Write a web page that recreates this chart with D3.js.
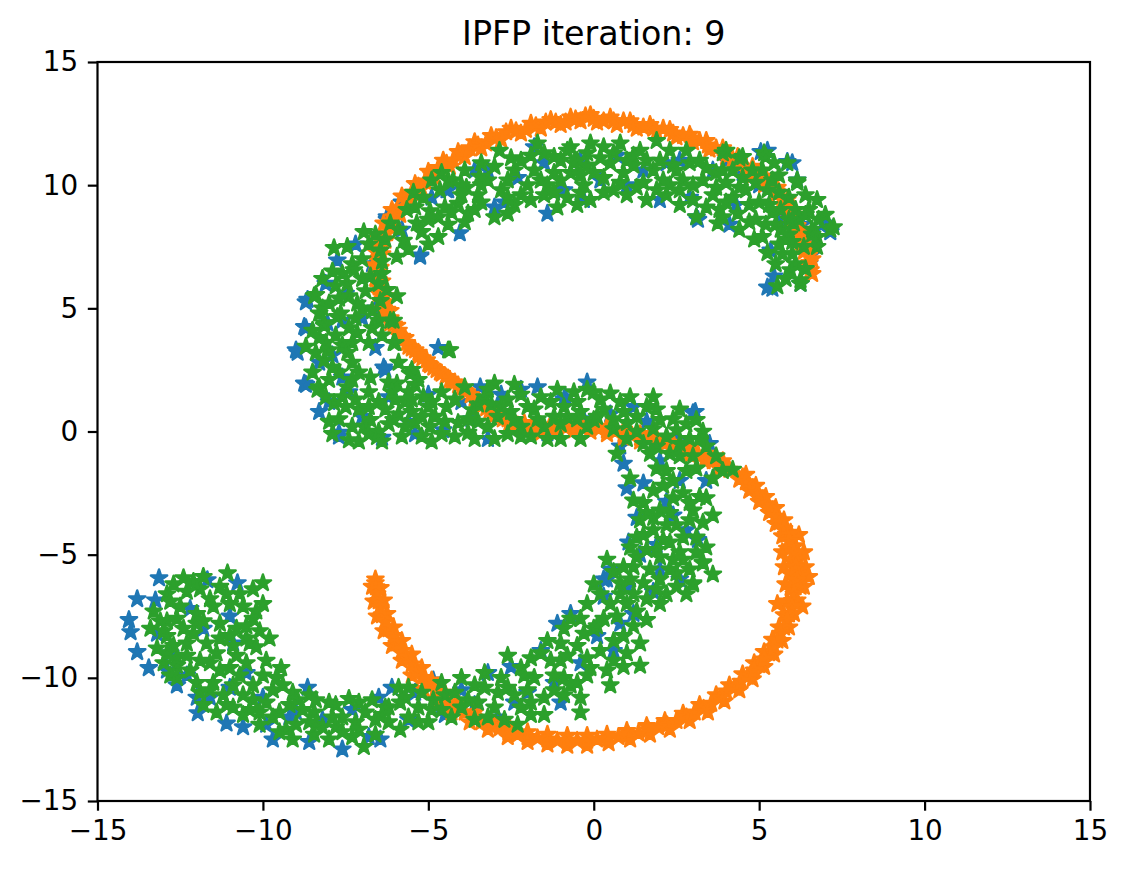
<!DOCTYPE html>
<html><head><meta charset="utf-8">
<script src="https://cdn.jsdelivr.net/npm/d3@7"></script>
<style>body{margin:0;background:#fff} svg{display:block}</style>
</head><body><svg id="chart" width="1127" height="869"></svg>
<script>
const titleText = "IPFP iteration: 9";
const xTicks = [-15, -10, -5, 0, 5, 10, 15];
const yTicks = [-15, -10, -5, 0, 5, 10, 15];
const seriesColors = ["#1f77b4", "#ff7f0e", "#2ca02c"];

const bluePoints = [
[5.25,11.4],[5.85,10.95],[6.0,10.9],[5.05,11.35],[6.15,10.2],[6.95,8.45],[7.15,8.1],[5.35,7.35],[5.45,6.3],[5.4,5.8],[5.25,5.85],[6.25,6.0],[3.15,8.6],[3.1,8.7],[2.9,9.5],[2.0,9.4],[-0.3,9.4],[-1.0,9.8],[0.7,11.2],[4.3,9.2],[5.6,8.7],[6.5,7.8],[4.5,10.5],[3.6,10.6],[1.5,10.6],[2.6,11.0],[0.2,10.2],
[-4.4,9.8],[-3.0,9.1],[-4.05,8.05],[-1.8,11.55],[-1.4,8.85],[-0.9,9.8],[-7.75,6.95],[-5.25,7.1],[-5.25,7.15],[-6.25,8.7],[-6.25,8.6],[-4.45,9.8],[-2.3,10.3],[-3.6,10.6],[-5.8,8.2],[-7.2,7.6],[-1.5,10.9],[-2.7,9.3],
[-8.65,5.35],[-8.7,5.25],[-8.75,4.25],[-8.7,4.2],[-9.0,3.3],[-8.95,3.2],[-8.75,1.95],[-8.7,1.9],[-8.3,0.8],[-7.7,-0.2],[-7.7,-0.05],[-8.05,4.4],[-6.3,2.5],[-6.35,2.6],[-7.5,5.6],[-7.0,4.6],[-7.9,3.1],[-7.6,2.2],[-6.6,3.4],[-6.6,5.0],[-8.0,1.2],[-7.0,0.6],
[-4.7,3.4],[-3.43,1.8],[-2.2,1.7],[-1.7,1.8],[-0.9,1.3],[-4.55,0.06],[-1.4,-0.06],[-6.4,-0.25],[-5.4,-0.1],[-3.2,-0.3],[-2.4,0.1],[-5.0,1.5],[-4.0,1.2],[-0.2,2.0],[-0.86,1.4],[1.2,1.0],[3.07,0.8],[3.0,0.75],[-6.2,1.4],[-3.7,0.5],[0.5,0.7],
[3.5,-0.5],[0.8,-0.6],[0.9,-1.3],[1.5,-2.1],[2.2,-2.85],[1.3,-3.5],[1.05,-4.5],[0.3,-6.0],[0.5,-5.6],[3.15,-4.4],[2.6,-6.0],[2.0,-1.2],[2.6,-2.0],[2.8,-4.0],[2.0,-5.6],[1.4,-5.0],[3.8,-1.3],[1.0,-2.3],
[-1.1,-7.8],[-1.6,-8.9],[-2.5,-9.55],[-3.2,-9.8],[0.3,-6.7],[0.4,-6.0],[1.0,-6.3],[-0.7,-7.4],[-4.85,-10.1],[1.2,-7.4],[0.6,-8.9],[-0.4,-9.4],[-2.0,-10.6],[-3.6,-11.1],[-4.5,-11.5],[-5.4,-10.6],[-1.0,-11.0],[-2.9,-11.6],[0.1,-8.3],
[-13.14,-5.95],[-13.8,-6.8],[-14.05,-7.65],[-14.0,-8.14],[-13.8,-8.95],[-13.45,-9.6],[-12.6,-10.3],[-11.97,-11.43],[-11.6,-10.8],[-11.1,-11.85],[-10.77,-6.15],[-11.68,-6.03],[-13.25,-6.85],[-13.2,-8.2],[-10.9,-8.6],[-9.7,-12.5],[-7.6,-12.9],[-6.5,-10.8],[-6.1,-10.4],[-8.65,-10.4],[-6.45,-12.5],[-12.2,-7.2],[-11.8,-8.0],[-11.0,-7.5],[-12.8,-9.0],[-10.5,-9.8],[-10.0,-10.8],[-9.2,-11.6],[-8.2,-11.7],[-7.3,-11.3],[-8.6,-12.6],[-11.0,-10.4],[-12.3,-9.9],[-9.9,-11.9],
[-9.0,-11.4],[-10.6,-12.0],[-12.0,-10.8],[-12.9,-9.7],[-6.8,-12.4],[-5.6,-11.7],[-4.0,-10.5],[-2.4,-11.0],[-1.2,-10.2],[0.8,-7.8],[1.8,-6.5],[1.9,-4.6],[2.4,-3.4],[3.4,-2.0],[2.5,-0.4],[1.6,0.4],[-0.3,0.5],[-2.8,1.5],[-5.6,0.4],[-7.4,1.6],[-8.3,2.8],[-7.6,4.5],[-8.1,6.0],[-6.7,6.8],[-5.8,9.3],[-4.9,9.5],[-3.2,10.6],[-0.4,11.0],[1.0,10.0],[2.2,10.9],[4.0,11.0],[5.0,10.0],[6.3,8.4],[6.6,7.2],[4.1,8.4]
];

const orangePoints = [
[6.6,6.4],[6.45,6.7],[6.6,7.0],[6.35,7.3],[6.45,7.6],[6.2,7.9],[6.3,8.2],[6.0,8.5],[6.1,8.8],[5.8,9.1],[5.85,9.4],[5.5,9.6],[5.55,9.9],[5.15,10.0],[5.2,10.35],[4.8,10.4],[4.8,10.75],[4.4,10.8],[4.35,11.15],[4.0,11.15],[3.9,11.5],[3.5,11.45],[3.4,11.8],[3.0,11.75],[2.9,12.05],[2.5,11.95],[2.3,12.25],[1.9,12.15],[1.7,12.45],[1.3,12.3],[1.1,12.6],[0.7,12.45],[0.5,12.75],[0.1,12.55],[-0.1,12.85],[-0.4,12.6],[-0.7,12.75],
[-1.0,12.45],[-1.3,12.65],[-1.6,12.3],[-1.9,12.5],[-2.2,12.1],[-2.5,12.3],[-2.8,11.85],[-3.1,12.0],[-3.4,11.5],[-3.6,11.75],[-3.9,11.15],[-4.1,11.35],[-4.35,10.75],[-4.55,11.0],[-4.8,10.3],[-5.0,10.55],[-5.2,9.85],[-5.4,10.05],[-5.55,9.35],[-5.8,9.55],[-5.85,8.8],[-6.1,9.0],[-6.1,8.3],[-6.35,8.45],[-6.3,7.75],[-6.5,7.85],[-6.4,7.2],[-6.6,7.3],[-6.45,6.65],[-6.65,6.75],[-6.4,6.1],[-6.6,6.2],[-6.3,5.5],[-6.5,5.6],[-6.15,4.9],[-6.35,5.0],[-5.95,4.3],[-6.15,4.4],[-5.7,3.8],[-5.9,3.9],[-5.4,3.3],[-5.6,3.45],[-5.05,2.9],[-5.3,3.05],[-4.75,2.5],[-4.95,2.7],[-4.35,2.1],[-4.6,2.35],[-4.0,1.75],[-4.2,2.0],[-3.6,1.35],[-3.85,1.6],[-3.25,0.95],[-3.45,1.2],[-2.9,0.55],[-3.05,0.8],[-2.5,0.2],[-2.6,0.5],[-2.1,0.05],[-2.1,0.35],[-1.6,-0.05],[-1.6,0.25],[-1.1,0.0],[-1.1,0.3],[-0.6,0.05],[-0.6,0.35],[-0.1,0.0],[-0.1,0.3],[0.4,-0.1],[0.4,0.2],[0.9,-0.25],[0.9,0.05],[1.4,-0.4],[1.4,-0.1],[1.9,-0.55],[1.9,-0.25],[2.4,-0.75],[2.4,-0.45],[2.9,-0.95],[2.9,-0.65],[3.35,-1.2],[3.4,-0.9],[3.8,-1.5],[3.9,-1.2],
[4.4,-1.95],[4.6,-1.75],[4.7,-2.4],[4.9,-2.2],[5.0,-2.85],[5.2,-2.65],[5.3,-3.3],[5.5,-3.1],[5.5,-3.75],[5.75,-3.6],[5.7,-4.25],[5.95,-4.1],[5.85,-4.75],[6.1,-4.65],[5.95,-5.25],[6.2,-5.2],[5.95,-5.8],[6.25,-5.75],[5.95,-6.35],[6.25,-6.3],[5.85,-6.9],[6.15,-6.85],[5.75,-7.45],[6.05,-7.4],[5.6,-7.95],[5.9,-7.95],[5.4,-8.45],[5.7,-8.5],[5.15,-8.95],[5.45,-9.05],[4.85,-9.4],[5.15,-9.55],[4.5,-9.85],[4.8,-10.05],[4.1,-10.3],[4.4,-10.5],[3.7,-10.7],[3.95,-10.95],[3.2,-11.1],[3.45,-11.4],[2.7,-11.45],[2.9,-11.75],[2.15,-11.75],[2.3,-12.1],[1.6,-11.95],[1.7,-12.3],[1.0,-12.15],[1.1,-12.5],[0.4,-12.3],[0.45,-12.65],[-0.2,-12.35],[-0.2,-12.75],[-0.8,-12.35],[-0.8,-12.75],[-1.4,-12.3],[-1.4,-12.7],[-2.0,-12.2],[-2.0,-12.6],[-2.55,-12.0],[-2.6,-12.4],[-3.1,-11.75],[-3.2,-12.1],[-3.6,-11.4],[-3.75,-11.8],[-4.1,-11.0],[-4.3,-11.4],[-4.5,-10.6],[-4.75,-10.95],[-4.9,-10.1],[-5.15,-10.45],[-5.2,-9.6],[-5.5,-9.9],[-5.5,-9.05],[-5.8,-9.3],[-5.8,-8.5],[-6.1,-8.7],[-6.05,-7.95],[-6.35,-8.1],[-6.25,-7.4],[-6.55,-7.5],[-6.35,-6.85],[-6.65,-6.9],[-6.45,-6.35],[-6.7,-6.3],[-6.6,-6.0],
[6.52,6.85],[6.4,7.45],[6.25,8.05],[6.05,8.65],[5.82,9.25],[5.52,9.75],[5.18,10.18],[4.8,10.58],[4.38,10.98],[3.95,11.33],[3.45,11.62],[2.95,11.9],[2.4,12.1],[1.8,12.3],[1.2,12.45],[0.6,12.6],[0.0,12.7],[-0.55,12.68],
[-1.15,12.55],[-1.75,12.4],[-2.35,12.2],[-2.95,11.92],[-3.5,11.62],[-4.0,11.25],[-4.45,10.88],[-4.9,10.42],[-5.3,9.95],[-5.68,9.45],[-5.98,8.9],[-6.22,8.38],[-6.4,7.8],[-6.5,7.25],[-6.55,6.7],[-6.5,6.15],[-6.4,5.55],[-6.25,4.95],[-6.05,4.35],[-5.8,3.85],[-5.5,3.38],[-5.18,2.98],[-4.85,2.6],[-4.48,2.22],[-4.1,1.88],[-3.72,1.48],[-3.35,1.08],[-2.98,0.68],[-2.55,0.35],[-2.1,0.2],[-1.6,0.1],[-1.1,0.15],[-0.6,0.2],[-0.1,0.15],[0.4,0.05],[0.9,-0.1],[1.4,-0.25],[1.9,-0.4],[2.4,-0.6],[2.9,-0.8],[3.38,-1.05],[3.85,-1.35],
[4.5,-1.85],[4.8,-2.3],[5.1,-2.75],[5.4,-3.2],[5.62,-3.68],[5.82,-4.18],[5.98,-4.7],[6.08,-5.22],[6.1,-5.78],[6.1,-6.32],[6.0,-6.88],[5.9,-7.42],[5.75,-7.95],[5.55,-8.48],[5.3,-9.0],[5.0,-9.48],[4.65,-9.95],[4.25,-10.4],[3.82,-10.82],[3.32,-11.25],[2.8,-11.6],[2.22,-11.92],[1.65,-12.12],[1.05,-12.32],[0.42,-12.48],[-0.2,-12.55],[-0.8,-12.55],[-1.4,-12.5],[-2.0,-12.4],[-2.58,-12.2],[-3.15,-11.92],[-3.68,-11.6],[-4.2,-11.2],[-4.62,-10.78],[-5.02,-10.28],[-5.35,-9.75],[-5.65,-9.18],[-5.95,-8.6],[-6.2,-8.02],[-6.4,-7.45],[-6.5,-6.88],[-6.58,-6.32],
[6.35,-4.9],[6.4,-5.5],[6.35,-6.3],[6.5,-5.9],[5.75,-5.5],[5.8,-6.2],[5.7,-4.9],[6.3,-7.1],[5.55,-7.0],[6.2,-4.2],
[6.55,6.55],[6.5,7.15],[6.3,7.75],[6.15,8.35],[5.95,8.95],[5.7,9.5],[5.35,9.95],[5.0,10.3],[4.6,10.75],[4.2,11.05],[3.7,11.5],[3.2,11.8],[2.7,12.0],[2.1,12.3],[1.5,12.35],[0.9,12.6],[0.3,12.6],[-0.25,12.8],[-0.85,12.55],[-1.45,12.55],[-2.05,12.25],[-2.65,12.15],[-3.25,11.7],[-3.75,11.5],[-4.25,11.0],[-4.7,10.7],[-5.1,10.15],[-5.5,9.7],[-5.75,9.1],[-6.05,8.7],[-6.25,8.05],[-6.45,7.55],[-6.55,6.95],[-6.5,6.45],[-6.5,5.85],[-6.3,5.25],[-6.15,4.6],[-5.9,4.1],[-5.65,3.6],[-5.3,3.2],[-5.0,2.75],[-4.65,2.4],[-4.3,2.0],[-3.9,1.65],[-3.5,1.25],[-3.15,0.85],[-2.75,0.5],[-2.3,0.25],[-1.85,0.15],[-1.35,0.15],[-0.85,0.15],[-0.35,0.15],[0.15,0.1],[0.65,0.0],[1.15,-0.15],[1.65,-0.3],[2.15,-0.5],[2.65,-0.7],[3.15,-0.9],[3.6,-1.2],[4.1,-1.55],
[4.6,-2.05],[4.95,-2.5],[5.25,-2.95],[5.5,-3.45],[5.75,-3.95],[5.9,-4.45],[6.05,-4.95],[6.1,-5.5],[6.15,-6.05],[6.05,-6.6],[6.0,-7.15],[5.85,-7.7],[5.65,-8.2],[5.45,-8.75],[5.15,-9.25],[4.85,-9.7],[4.45,-10.15],[4.0,-10.55],[3.55,-11.05],[3.05,-11.4],[2.5,-11.75],[1.95,-12.0],[1.35,-12.25],[0.75,-12.4],[0.1,-12.5],[-0.5,-12.55],[-1.1,-12.55],[-1.7,-12.45],[-2.3,-12.3],[-2.85,-12.05],[-3.4,-11.8],[-3.9,-11.4],[-4.4,-11.0],[-4.8,-10.5],[-5.2,-10.0],[-5.5,-9.45],[-5.8,-8.9],[-6.05,-8.3],[-6.3,-7.7],[-6.45,-7.15],[-6.55,-6.6],[-6.6,-6.15]
];

const greenPoints = [
[7.25,8.3],[7.15,8.2],[6.75,9.4],[6.75,7.9],[6.75,7.5],[6.35,7.5],[6.05,8.45],[6.15,10.2],[6.15,10.1],[5.85,10.9],[5.45,10.9],[5.15,11.3],[5.2,11.15],[4.5,11.15],[4.0,11.4],[3.9,11.3],[4.4,11.1],[5.65,9.0],[5.65,8.2],[5.25,9.8],[4.6,9.8],[4.0,10.1],[4.35,8.85],[4.85,7.8],[5.25,7.25],[5.55,5.9],[5.95,6.55],[6.25,6.0],[6.25,6.15],[5.5,6.8],[6.0,7.2],[6.4,8.8],[5.9,9.5],[3.75,8.45],[3.4,9.1],[3.3,10.2],[2.9,10.9],[3.8,9.0],[3.1,8.7],[4.9,8.6],[5.0,9.3],[6.5,9.0],[4.2,9.5],[3.6,9.6],
[2.3,11.4],[1.9,11.8],[1.4,11.4],[0.8,11.7],[0.3,11.55],[-0.2,11.3],[-0.8,11.4],[-0.7,10.5],[0,10.5],[0.8,10.1],[1.5,10.1],[2.1,10.2],[1.6,9.4],[-0.1,9.4],[2.5,10.6],[1.2,10.8],[0.5,10.9],[-0.3,10.0],[2.6,9.8],[1.0,9.6],[-1.0,10.2],[-0.5,11.0],[2.0,11.0],
[-1.1,9.1],[-1.2,11.15],[-0.7,11.55],[-0.6,10.9],[-1.7,11.7],[-1.8,10.6],[-1.6,10.2],[-2.4,10.6],[-2.85,11.4],[-3.0,10.75],[-2.6,8.85],[-3.0,8.7],[-3.8,8.85],[-3.4,9.3],[-3.45,10.35],[-3.85,9.9],[-4.25,10.2],[-4.4,10.2],[-4.65,9.8],[-5.15,9.5],[-5.45,9.7],[-4.1,9.25],[-4.7,8.7],[-4.95,8.95],[-5.35,8.45],[-5.65,9.0],[-6.15,8.45],[-5.75,7.75],[-4.7,7.9],[-5.2,8.1],[-6.95,8.1],[-7.85,7.45],[-7.45,7.5],[-6.45,7.35],[-5.95,7.1],[-6.4,6.9],[-2.2,9.6],[-2.0,10.0],[-1.4,10.0],[-2.8,9.8],
[4.8,10.6],[3.2,11.0],[2.7,10.2],[1.8,10.6],[0.3,10.3],[-0.4,9.7],[-1.5,9.6],[-2.4,9.2],[-3.6,9.0],[-4.4,8.4],[-5.0,7.6],[-5.6,7.4],[-6.3,7.8],[-7.0,7.0],[-6.8,7.6],[5.2,8.4],[5.9,8.0],[6.4,6.6],[5.8,7.8],[4.7,9.2],[3.7,10.5],[1.2,11.2],[-0.2,10.8],[-1.2,10.5],[-2.6,10.2],[-3.4,10.0],[-4.0,9.6],[-5.9,8.2],[-6.6,8.0],
[-2.2,11.0],[-1.0,11.0],[0.2,11.1],[1.6,11.0],[2.8,11.4],[3.4,10.7],[4.2,10.6],[5.6,10.4],[4.4,9.9],[3.0,9.4],[2.2,9.6],[0.6,9.8],[-0.8,9.5],[5.4,8.9],[6.1,9.0],[6.8,8.6],[6.0,7.7],[5.7,7.2],[4.4,8.2],[-3.9,10.6],[-4.9,10.2],
[-4.6,10.5],[-4.0,10.0],[-3.2,10.2],[-2.6,9.5],[-1.9,9.4],[-1.2,9.7],[-0.5,9.2],[0.3,9.7],[1.3,9.9],[2.3,10.0],[3.0,10.0],[3.7,9.9],[4.5,10.3],[5.1,10.6],[5.6,9.7],[5.3,9.2],[4.7,8.5],[3.9,8.7],[2.6,9.2],[1.9,9.8],[0.6,11.3],[-0.1,11.7],[-1.5,11.3],[-2.5,11.1],[-3.4,10.9],[-5.4,9.1],[-5.0,8.6],[-4.3,8.9],[-3.9,8.5],[6.6,8.2],[6.2,8.6],[5.9,8.6],[6.4,9.6],[5.5,8.4],[5.1,7.9],[5.6,7.6],[6.1,6.8],[5.8,6.2],[6.6,8.0],[7.0,8.8],
[1.0,11.0],[2.4,10.8],[3.9,10.6],[4.9,10.1],[5.4,10.2],[4.0,9.3],[-0.4,10.4],[0.9,10.5],[-1.9,11.2],[-3.5,9.6],[-4.5,9.1],
[-7.25,6.55],[-7.45,6.0],[-6.75,6.3],[-6.25,5.75],[-5.95,5.5],[-8.45,5.5],[-8.4,5.55],[-7.8,5.9],[-7.15,5.2],[-7.65,4.8],[-6.45,5.3],[-7.75,4.65],[-8.15,4.4],[-8.15,4.3],[-6.15,4.5],[-6.05,4.5],[-7.15,4.0],[-6.7,4.2],[-6.05,3.6],[-6.0,3.6],[-8.7,3.45],[-8.1,3.6],[-7.45,3.2],[-7.3,3.6],[-8.15,2.9],[-5.5,2.5],[-5.55,2.35],[-6.75,2.2],[-7.45,1.8],[-8.3,1.8],[-8.35,1.7],[-7.7,2.4],[-7.85,1.15],[-7.2,1.3],[-6.8,1.6],[-5.95,1.95],[-5.15,1.4],[-7.4,-0.35],[-6.95,0.2],[-6.75,0.47],[-6.55,-0.22],[-7.7,0.5],[-6.3,0.9],[-7.1,0.9],
[-7.6,6.4],[-8.0,5.2],[-7.2,4.6],[-6.7,4.9],[-7.8,3.9],[-6.4,3.9],[-7.9,2.6],[-7.1,2.4],[-8.0,2.1],[-7.6,1.4],[-6.5,1.2],[-6.2,0.3],[-7.3,0.2],[-6.8,-0.1],[-5.9,2.8],
[-7.9,6.5],[-8.2,5.0],[-7.4,5.5],[-6.9,5.7],[-7.6,3.5],[-8.4,3.2],[-8.5,2.4],[-7.3,2.8],[-6.2,2.0],[-6.0,1.3],[-5.4,1.9],[-8.0,0.4],[-7.1,-0.4],[-8.3,4.8],[-6.4,6.4],[-7.0,6.2],
[-8.2,6.2],[-7.3,6.8],[-6.5,6.0],[-7.7,5.4],[-7.0,5.0],[-6.5,4.5],[-8.5,4.1],[-7.4,4.2],[-6.8,3.6],[-8.3,3.8],[-8.0,3.3],[-7.3,2.1],[-8.1,1.4],[-6.8,1.0],[-7.5,1.0],[-7.9,-0.1],[-6.4,-0.4],[-6.1,1.6],[-5.6,1.6],[-5.3,2.1],
[-6.05,0.47],[-5.4,0.35],[-4.95,0.2],[-4.45,1.0],[-3.65,0.87],[-2.8,1.0],[-2.0,1.0],[-0.9,1.0],[-3.8,-0.05],[-3.2,0.2],[-4.1,0.35],[-2.4,0.47],[-3.0,1.95],[-1.6,1.4],[-4.4,3.3],[-4.35,3.3],[-5.0,1.0],[-5.7,1.2],[-3.3,1.4],[-2.2,1.5],[-1.2,0.6],[-0.2,1.7],[0.5,1.55],[-0.8,0.6],[0,0.47],[1.0,0.35],[-1.5,0.2],[-2.6,-0.1],[-4.6,-0.1],[-5.8,-0.2],[-0.5,1.2],[0.3,0.9],
[-5.5,0.8],[-4.8,0.6],[-4.2,1.3],[-3.5,0.4],[-2.9,0.6],[-2.2,0.2],[-1.8,0.9],[-1.1,1.7],[-0.4,0.8],[0.2,1.3],[0.8,1.2],[1.3,0.6],[-3.9,1.8],[-2.6,1.3],[-5.2,-0.2],[-4.2,-0.2],[-1.9,-0.2],[0.6,0.1],
[-4.6,1.6],[-3.2,1.7],[-2.4,1.9],[-1.3,1.2],[-0.2,0.2],[0.9,0.8],[1.8,1.4],[2.6,0.9],[2.8,0.3],[3.3,0.0],[-1.0,-0.3],[-0.4,-0.3],[-3.0,-0.3],[-4.9,-0.4],[-5.9,0.7],[0.0,1.6],
[-6.5,0.0],[-5.7,0.2],[-5.2,0.6],[-4.5,0.4],[-3.8,0.5],[-3.1,1.1],[-2.5,0.8],[-1.7,0.5],[-1.0,0.3],[-0.5,0.5],[0.1,0.6],[0.6,0.5],[1.1,1.4],[1.9,0.9],[2.4,0.5],[1.8,0.1],[-3.5,1.1],[-4.9,1.2],[-5.5,1.3],[-2.2,-0.2],[-1.4,-0.3],[-3.6,-0.3],[-0.6,1.6],
[1.6,1.0],[3.1,0.47],[2.0,0.47],[2.5,0.06],[1.3,0.0],[3.4,-0.6],[4.2,-1.55],[2.3,-0.9],[2.8,-1.6],[1.5,-0.5],[1.9,-1.5],[3.2,-2.65],[3.0,-3.2],[3.3,-3.7],[3.4,-4.7],[3.3,-5.3],[3.0,-6.15],[2.5,-5.75],[2.7,-5.2],[1.8,-2.4],[2.0,-3.2],[1.8,-4.0],[1.6,-4.8],[2.0,-5.1],[1.2,-5.5],[1.5,-6.15],[0.8,-6.15],[2.4,-2.0],[2.5,-3.8],[2.3,-4.5],[2.6,-1.0],[1.0,-0.3],[3.0,-6.2],[3.3,-5.35],[2.2,-6.6],[1.2,-2.8],[1.4,-3.6],
[2.2,-0.2],[2.9,-0.3],[3.0,-1.0],[3.7,-1.0],[1.7,-0.9],[2.2,-1.6],[2.7,-2.5],[2.3,-3.3],[2.7,-4.3],[2.1,-4.4],[1.7,-5.6],[2.4,-5.2],[2.8,-6.6],[1.1,-4.7],[2.9,-3.6],[1.5,-4.2],[2.0,-6.0],[1.6,-6.8],[2.5,-6.3],
[3.6,-1.9],[3.4,-2.7],[3.6,-3.4],[2.4,-2.7],[1.5,-2.9],[1.1,-1.9],[0.7,-0.9],[1.8,-3.5],[1.3,-4.3],[2.6,-4.9],[3.1,-4.9],[1.1,-6.0],[0.6,-5.7],[2.0,-7.0],[3.6,-5.8],
[1.9,-0.6],[2.6,-0.5],[3.2,-0.3],[3.9,-1.6],[3.1,-1.5],[2.1,-2.2],[2.9,-2.9],[1.6,-3.3],[2.2,-3.8],[3.1,-4.3],[1.9,-4.8],[2.3,-5.6],[2.9,-5.6],[1.3,-5.1],[0.9,-5.5],[1.9,-6.4],[1.2,-6.6],
[0.4,-5.2],[0.2,-6.6],[1.0,-7.0],[1.6,-7.65],[1.4,-8.6],[0.9,-9.55],[0.4,-9.7],[-0.4,-10.8],[0.3,-7.6],[-0.3,-8.2],[0.6,-8.5],[-0.7,-7.6],[-1.0,-8.6],[-0.2,-9.2],[-1.3,-9.3],[-1.8,-10.0],[-0.9,-10.0],[-2.2,-9.6],[-2.8,-10.0],[-2.4,-10.7],[-1.5,-10.8],[-3.3,-10.4],[-3.8,-10.9],[-3.0,-11.2],[-2.7,-11.7],[-2.2,-11.2],[-4.5,-10.7],[-4.85,-10.9],[-4.3,-11.6],[-5.3,-11.2],[-5.85,-11.0],[-3.6,-11.7],[-5.0,-11.8],[-1.0,-9.3],[0,-8.0],
[0.8,-6.6],[1.2,-7.9],[0.7,-7.5],[-0.2,-7.0],[-0.5,-8.7],[0.2,-8.9],[0.9,-8.3],[-1.6,-9.0],[-1.2,-9.9],[-0.5,-10.2],[-2.0,-10.5],[-2.6,-10.4],[-3.6,-10.3],[-3.2,-11.6],[-4.0,-11.2],[-4.9,-11.3],[-5.6,-11.6],[-1.9,-11.0],[-0.2,-9.9],[-0.9,-10.7],[1.0,-9.0],
[-0.9,-8.0],[-1.9,-9.2],[-2.6,-9.1],[-3.3,-9.8],[-4.0,-10.0],[-4.6,-10.2],[-5.2,-10.6],[-5.9,-10.4],[-6.2,-11.2],[0.5,-10.3],[-1.5,-11.5],[1.4,-9.5],[-0.4,-11.4],[-2.3,-11.9],
[0.0,-6.2],[-0.4,-7.6],[0.5,-7.0],[1.3,-7.3],[0.1,-7.9],[0.6,-9.3],[-0.1,-9.6],[-0.8,-9.1],[-1.4,-8.5],[-2.1,-9.9],[-2.9,-10.6],[-3.5,-11.0],[-4.2,-10.6],[-4.6,-11.3],[-5.3,-11.8],[-5.6,-10.4],[-1.2,-10.5],[-1.9,-11.5],[-0.7,-10.3],
[-12.4,-5.95],[-11.07,-5.75],[-10.0,-6.15],[-10.3,-6.4],[-10.6,-7.1],[-12.9,-6.6],[-11.9,-6.4],[-12.5,-7.1],[-11.5,-7.1],[-11.1,-6.6],[-10.1,-8.1],[-10.4,-8.6],[-10.2,-8.75],[-9.45,-9.6],[-13.2,-8.8],[-12.6,-9.5],[-12.3,-8.6],[-11.9,-9.3],[-11.5,-10.2],[-12.0,-10.2],[-11.0,-9.6],[-10.9,-10.3],[-10.3,-10.9],[-9.7,-10.5],[-10.1,-11.4],[-9.5,-11.4],[-8.95,-10.9],[-8.45,-11.4],[-8.0,-11.0],[-7.8,-11.1],[-7.4,-10.85],[-6.9,-11.4],[-6.3,-11.2],[-5.7,-10.8],[-5.85,-12.1],[-6.95,-12.8],[-8.45,-12.3],[-9.1,-12.5],[-10.1,-11.9],[-10.6,-11.5],[-11.1,-11.1],[-11.6,-10.5],[-12.6,-9.2],[-12.0,-7.8],[-11.3,-8.4],[-10.8,-8.0],[-8.6,-11.8],[-7.2,-11.8],[-9.4,-10.3],[-13.3,-7.3],[-12.9,-7.7],[-7.6,-12.2],[-6.6,-12.3],
[-11.6,-6.8],[-12.3,-6.5],[-11.0,-7.0],[-12.0,-7.4],[-11.3,-7.8],[-10.5,-8.4],[-10.8,-9.1],[-11.4,-9.0],[-12.1,-8.2],[-12.9,-8.3],[-12.2,-9.7],[-11.3,-9.7],[-10.7,-9.9],[-10.0,-9.9],[-10.6,-10.7],[-9.9,-11.0],[-9.2,-11.1],[-8.6,-10.7],[-7.9,-11.6],[-7.1,-11.0],[-6.6,-11.7],[-9.0,-11.9],[-7.3,-12.4],[-6.2,-11.8],[-8.2,-12.0],[-12.7,-8.7],
[-13.0,-9.4],[-12.6,-10.0],[-11.8,-11.1],[-11.2,-10.7],[-10.4,-11.3],[-9.7,-11.6],[-9.3,-12.1],[-8.8,-11.3],[-8.0,-12.5],[-7.6,-11.6],[-6.7,-10.9],[-11.8,-5.9],[-12.7,-6.2],[-10.9,-8.7],[-11.7,-8.6],[-12.4,-8.0],[-13.4,-8.0],[-10.0,-7.0],[-10.3,-7.6],[-9.8,-8.4],[-9.9,-9.3],
[-12.8,-6.9],[-12.1,-6.1],[-11.3,-6.3],[-10.7,-6.6],[-10.2,-7.3],[-11.8,-7.7],[-12.6,-7.6],[-13.0,-8.1],[-11.0,-8.3],[-11.6,-9.4],[-12.3,-9.1],[-12.8,-9.9],[-11.9,-10.6],[-11.4,-11.4],[-10.9,-11.2],[-10.3,-10.3],[-9.6,-10.0],[-9.1,-10.6],[-8.4,-10.9],[-8.4,-11.9],[-7.8,-12.0],[-7.1,-12.1],[-6.4,-11.5],[-9.5,-12.2],[-10.5,-7.9],[-10.5,-9.4],[-12.9,-9.0],[-13.1,-7.7]
];

const W = 1127, H = 869;
const m = {left: 97.5, right: 1090, top: 62, bottom: 801};
const svg = d3.select("#chart");
svg.append("rect").attr("width", W).attr("height", H).attr("fill", "#fff");

const x = d3.scaleLinear().domain([-15, 15]).range([m.left, m.right]);
const y = d3.scaleLinear().domain([-15, 15]).range([m.bottom, m.top]);

svg.append("clipPath").attr("id", "plotclip").append("rect")
  .attr("x", m.left).attr("y", m.top).attr("width", m.right - m.left).attr("height", m.bottom - m.top);

// five-pointed star like matplotlib's '*' marker (outer radius R, inner 0.382R)
const starR = 8.6;
const starType = {
  draw(ctx) {
    for (let i = 0; i < 10; i++) {
      const a = -Math.PI / 2 + i * Math.PI / 5;
      const r = i % 2 === 0 ? starR : starR * 0.381966;
      const px = r * Math.cos(a), py = r * Math.sin(a);
      if (i === 0) ctx.moveTo(px, py); else ctx.lineTo(px, py);
    }
    ctx.closePath();
  }
};
const star = d3.symbol().type(starType);
const plot = svg.append("g").attr("clip-path", "url(#plotclip)");
[bluePoints, orangePoints, greenPoints].forEach((pts, i) => {
  plot.append("g").selectAll("path").data(pts).join("path")
    .attr("d", star)
    .attr("transform", d => `translate(${x(d[0])},${y(d[1])})`)
    .attr("fill", seriesColors[i])
    .attr("stroke", seriesColors[i])
    .attr("stroke-width", 2.4)
    .attr("stroke-linejoin", "round");
});

const fmt = d => d < 0 ? "\u2212" + Math.abs(d) : String(d);
function styleAxis(g) {
  g.select(".domain").remove();
  g.selectAll("line").attr("stroke", "#000").attr("stroke-width", 2.2);
  g.selectAll("text").attr("font-family", "DejaVu Sans").attr("font-size", 27.8).attr("fill", "#000");
}
svg.append("g").attr("transform", `translate(0,${m.bottom})`)
  .call(d3.axisBottom(x).tickValues(xTicks).tickFormat(fmt).tickSize(9.7).tickPadding(9.7))
  .call(styleAxis);
svg.append("g").attr("transform", `translate(${m.left},0)`)
  .call(d3.axisLeft(y).tickValues(yTicks).tickFormat(fmt).tickSize(9.7).tickPadding(9.7))
  .call(styleAxis);

svg.append("rect").attr("x", m.left).attr("y", m.top)
  .attr("width", m.right - m.left).attr("height", m.bottom - m.top)
  .attr("fill", "none").attr("stroke", "#000").attr("stroke-width", 2.2);

svg.append("text").attr("x", (m.left + m.right) / 2).attr("y", 45)
  .attr("text-anchor", "middle").attr("font-family", "DejaVu Sans")
  .attr("font-size", 33.3).attr("fill", "#000").text(titleText);
</script>
</body></html>
